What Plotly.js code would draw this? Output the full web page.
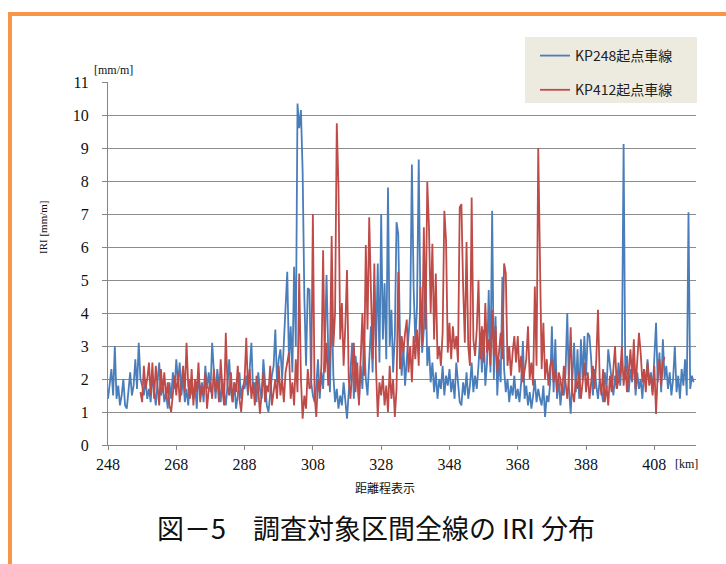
<!DOCTYPE html>
<html>
<head>
<meta charset="utf-8">
<script src="https://cdn.plot.ly/plotly-3.0.1.min.js"></script>
<style>
html,body{margin:0;padding:0;background:#fff;}
#frame{position:absolute;left:8px;top:12px;width:800px;height:600px;border-left:4px solid #F79646;border-top:4px solid #F79646;pointer-events:none;}
#chart{position:absolute;left:0;top:0;width:726px;height:564px;}
</style>
</head>
<body>
<div id="frame"></div>
<div id="chart"></div>
<script>
// IRI values, sampled every 0.5 km
const kpStart248 = 248;
const kpStart412 = 257.5;
const stepKm = 0.5;

const iri248 = [
  // 248-258
  1.4,1.9,2.3,1.5,3.0,1.4,1.8,1.2,1.5,2.0,1.2,1.1,1.6,2.2,1.5,1.8,2.6,1.7,3.1,2.0,
  // 258-268
  1.8,1.5,2.0,1.4,1.7,1.3,2.1,1.6,1.2,1.9,2.5,1.5,1.8,1.3,1.6,1.1,1.9,1.4,2.2,1.7,
  // 268-278
  2.6,1.9,2.5,1.5,2.1,1.3,1.7,1.2,2.0,1.6,1.4,1.8,1.1,2.2,1.5,1.9,1.3,2.4,1.7,2.2,
  // 278-288
  1.6,3.1,2.2,1.4,2.3,1.7,1.3,2.0,1.5,1.2,1.8,2.6,1.6,1.3,1.9,1.1,1.5,2.2,1.4,1.8,
  // 288-298
  1.7,2.1,1.5,2.3,3.1,1.6,1.9,1.3,2.2,1.7,1.4,2.6,1.8,1.2,1.0,1.6,2.1,2.4,3.5,1.9,
  // 298-308
  2.6,2.9,2.0,3.1,4.2,5.25,2.5,3.6,2.2,5.4,3.0,10.35,9.6,10.15,8.3,4.5,2.4,4.75,4.7,1.9,
  // 308-318
  1.5,1.3,1.8,2.6,1.4,2.2,1.7,3.0,5.15,2.8,1.6,4.4,2.1,1.3,1.7,1.1,1.5,1.2,1.9,1.4,
  // 318-328
  0.8,1.6,2.2,3.1,1.4,2.7,1.9,1.3,2.4,1.7,3.2,2.0,1.5,2.8,3.6,2.2,4.85,3.0,5.5,2.5,
  // 328-338
  7.0,3.2,4.9,2.6,7.8,3.0,4.1,2.2,3.3,6.75,6.4,3.3,2.1,3.0,1.8,2.6,3.2,4.0,8.5,4.8,
  // 338-348
  3.1,4.2,8.65,4.2,2.8,3.5,5.25,2.4,3.0,1.9,2.5,1.6,2.2,1.4,2.0,1.7,2.4,1.5,2.1,1.8,
  // 348-358
  2.3,1.6,2.0,1.4,2.5,1.8,1.3,1.2,1.9,1.5,2.2,1.4,1.8,2.5,1.6,2.1,1.7,2.4,3.4,2.2,
  // 358-368
  3.5,1.8,2.5,4.7,2.2,7.1,2.0,3.9,1.5,2.6,1.9,5.1,2.3,1.6,2.0,1.3,1.8,1.5,2.1,1.4,
  // 368-378
  1.7,1.3,1.9,3.15,1.4,1.8,1.2,1.6,1.1,1.5,2.0,1.3,1.7,1.4,1.2,1.8,0.85,1.5,1.3,1.9,
  // 378-388
  3.6,1.6,3.2,1.4,2.0,1.2,1.8,1.5,2.2,4.0,1.7,0.95,2.1,3.1,1.6,2.9,1.4,3.2,2.0,3.3,
  // 388-398
  2.1,3.4,3.3,2.6,1.5,2.3,1.8,1.4,2.0,1.6,1.3,2.2,1.7,2.9,2.4,1.9,1.5,2.1,1.7,2.5,
  // 398-408
  1.8,2.6,9.12,2.0,2.7,1.6,2.3,1.9,2.8,1.5,2.2,1.7,2.0,1.4,2.3,1.8,2.6,1.9,2.2,1.6,
  // 408-418
  2.5,3.7,1.9,2.8,1.6,3.2,2.0,2.4,1.7,2.2,1.5,2.0,3.0,1.6,2.1,1.4,2.3,1.8,2.6,1.5,
  // 418-419.5
  7.05,1.7,2.1,1.9
];

const iri412 = [
  // 257.5-267.5
  1.6,1.3,2.4,1.7,2.0,2.5,1.5,2.5,1.4,2.4,1.8,1.2,2.3,1.6,2.2,1.4,1.9,1.2,1.0,1.7,2.1,
  // 268-278
  1.5,2.2,1.3,1.9,2.4,1.6,3.1,1.8,1.4,2.3,1.2,2.0,1.6,2.5,1.3,1.8,1.5,2.2,1.1,1.7,
  // 278-288
  1.9,1.4,2.3,1.6,2.0,1.3,2.6,1.7,1.2,3.4,1.8,1.5,2.2,1.3,1.9,1.6,2.4,1.4,1.0,1.7,
  // 288-298
  2.0,3.25,1.6,2.3,1.4,1.9,1.2,2.1,1.7,0.95,1.5,2.2,1.3,1.8,1.6,2.4,1.2,1.7,2.0,1.4,
  // 298-308
  2.4,1.5,2.0,1.3,2.2,2.5,2.8,1.4,1.9,1.2,2.6,1.6,5.2,2.0,0.8,1.5,1.1,2.3,1.7,1.8,
  // 308-318
  7.0,1.5,0.85,2.0,1.6,2.4,5.9,2.2,3.1,1.8,2.7,6.33,3.0,4.0,9.75,7.8,3.2,4.3,2.4,3.6,
  // 318-328
  5.3,2.0,1.4,2.2,3.1,1.6,2.5,1.2,2.9,4.0,2.1,6.06,3.5,6.9,4.7,2.6,5.5,2.3,0.85,1.9,
  // 328-338
  1.5,2.1,1.2,1.8,1.0,2.4,1.4,2.0,0.85,1.7,5.25,2.3,3.3,2.8,3.4,3.8,2.2,3.0,1.9,3.3,
  // 338-348
  2.6,3.5,2.4,4.8,3.0,6.6,3.5,7.97,6.6,4.0,6.1,3.2,5.2,2.6,3.0,2.4,3.4,7.1,6.2,2.8,
  // 348-358
  3.7,2.6,3.6,2.9,3.3,2.5,7.2,7.3,4.8,3.1,6.15,3.0,2.4,7.5,3.2,2.7,3.5,5.0,2.6,3.6,
  // 358-368
  2.5,4.3,2.8,3.2,2.4,4.1,2.7,3.6,2.2,2.9,3.4,2.6,5.5,5.2,2.4,3.0,2.1,2.8,3.3,2.5,
  // 368-378
  3.3,2.2,2.7,1.9,2.3,2.6,3.6,2.0,2.5,1.8,4.8,2.4,9.0,4.9,2.3,3.7,2.0,2.6,1.8,2.4,
  // 378-388
  2.6,1.9,2.3,1.6,2.2,2.0,1.5,2.4,1.8,1.4,2.1,3.57,1.6,1.3,2.0,1.7,2.2,1.4,1.9,2.5,
  // 388-398
  1.6,2.2,1.4,1.9,2.4,1.7,2.6,4.1,2.0,1.5,2.3,1.3,1.8,1.2,2.1,1.6,2.5,3.0,1.7,2.0,
  // 398-408
  2.2,3.0,1.8,2.4,1.6,2.2,2.9,2.0,3.2,1.7,2.5,3.4,2.8,1.9,2.3,1.6,2.5,1.8,2.1,1.5,
  // 408-411
  2.4,0.94,2.2,2.6,1.8,2.5,2.67
];

const seriesNames = ['KP248起点車線', 'KP412起点車線'];
const xTickVals = [248, 268, 288, 308, 328, 348, 368, 388, 408];
const xTickText = ['248', '268', '288', '308', '328', '348', '368', '388', '408'];
const yTickVals = [0,1,2,3,4,5,6,7,8,9,10,11];

const traces = [
  {type:'scatter', mode:'lines', name:seriesNames[0], x0:kpStart248, dx:stepKm, y:iri248,
   line:{color:'#4A7EBB', width:1.8}, legendgroup:'a'},
  {type:'scatter', mode:'lines', name:seriesNames[1], x0:kpStart412, dx:stepKm, y:iri412,
   line:{color:'#BE4B48', width:1.8}, legendgroup:'b'}
];

const L = 108, T = 82, W = 588, H = 363;
const px = v => (v - L) / W;
const py = v => (T + H - v) / H;

const layout = {
  width:726, height:564,
  margin:{l:L, r:726-L-W, t:T, b:564-T-H, pad:0},
  paper_bgcolor:'rgba(0,0,0,0)', plot_bgcolor:'rgba(0,0,0,0)',
  showlegend:true,
  title:{text:'図－5　調査対象区間全線の IRI 分布', font:{family:'Noto Sans CJK JP', size:27, color:'#111'},
         x:376/726, xanchor:'center', y:1-530/564, yanchor:'middle'},
  xaxis:{range:[248, 420.2], tickvals:xTickVals, ticktext:xTickText, showgrid:false, zeroline:false,
         showline:true, linecolor:'#868686', linewidth:1, ticks:'outside', ticklen:4, tickcolor:'#868686',
         tickfont:{family:'Liberation Serif', size:16, color:'#111'}, ticklabelstandoff:1},
  yaxis:{range:[0, 11], tickvals:yTickVals, showgrid:true, gridcolor:'#8c8c8c', gridwidth:1, zeroline:false,
         showline:true, linecolor:'#868686', linewidth:1, ticks:'outside', ticklen:5, tickcolor:'#868686',
         tickfont:{family:'Liberation Serif', size:16, color:'#111'}, ticklabelstandoff:10},
  legend:{x:px(535), y:py(40), xanchor:'left', yanchor:'top', bgcolor:'rgba(0,0,0,0)', borderwidth:0,
          traceorder:'grouped', tracegroupgap:13,
          font:{family:'Noto Sans CJK JP', size:14, color:'#222'}},
  shapes:[
    {type:'rect', xref:'paper', yref:'paper', x0:px(525), x1:px(697), y0:py(37), y1:py(103),
     fillcolor:'#EDEAE0', line:{width:0}, layer:'below'}
  ],
  annotations:[
    {text:'[mm/m]', xref:'paper', yref:'paper', x:px(113), y:py(70), xanchor:'center', yanchor:'middle',
     showarrow:false, font:{family:'Liberation Serif', size:12, color:'#111'}},
    {text:'[km]', xref:'paper', yref:'paper', x:px(686), y:py(464), xanchor:'center', yanchor:'middle',
     showarrow:false, font:{family:'Liberation Serif', size:12, color:'#111'}},
    {text:'IRI [mm/m]', xref:'paper', yref:'paper', x:px(43), y:py(228), xanchor:'center', yanchor:'middle',
     textangle:-90, showarrow:false, font:{family:'Liberation Serif', size:11, color:'#111'}},
    {text:'距離程表示', xref:'paper', yref:'paper', x:px(385), y:py(487), xanchor:'center', yanchor:'middle',
     showarrow:false, font:{family:'Noto Sans CJK JP', size:12, color:'#111'}}
  ]
};

Plotly.newPlot('chart', traces, layout, {displayModeBar:false, staticPlot:true});
</script>
</body>
</html>
